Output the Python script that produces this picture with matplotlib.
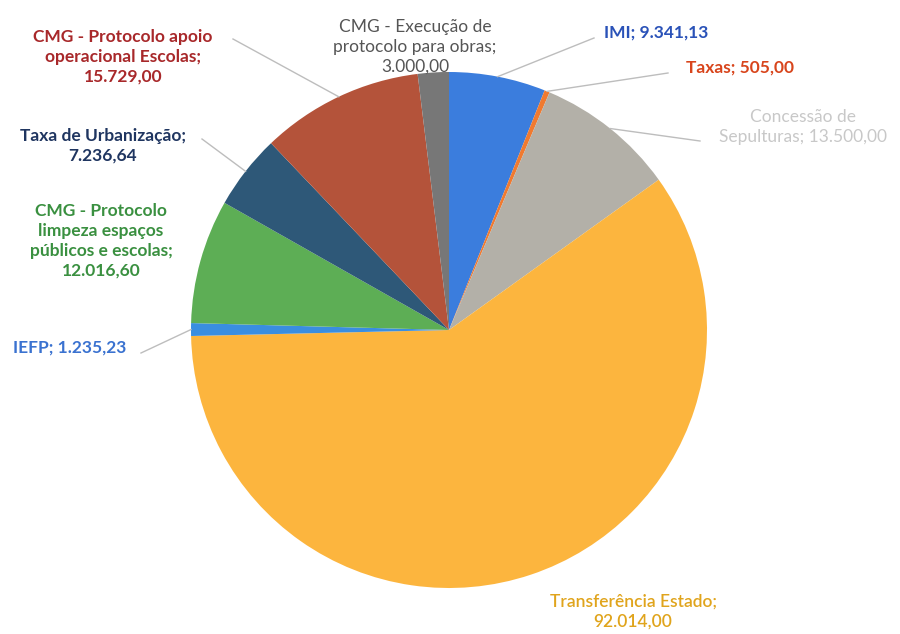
import matplotlib
matplotlib.use("Agg")
import matplotlib.pyplot as plt
import numpy as np

categories = ["IMI", "Taxas", "Concessão de Sepulturas", "Transferência Estado",
              "IEFP", "CMG - Protocolo limpeza espaços públicos e escolas",
              "Taxa de Urbanização", "CMG - Protocolo apoio operacional Escolas",
              "CMG - Execução de protocolo para obras"]
values = [9341.13, 505.00, 13500.00, 92014.00, 1235.23, 12016.60, 7236.64, 15729.00, 3000.00]
label_text = [
    "IMI; 9.341,13",
    "Taxas; 505,00",
    "Concessão de\nSepulturas; 13.500,00",
    "Transferência Estado;\n92.014,00",
    "IEFP; 1.235,23",
    "CMG - Protocolo\nlimpeza espaços\npúblicos e escolas;\n12.016,60",
    "Taxa de Urbanização;\n7.236,64",
    "CMG - Protocolo apoio\noperacional Escolas;\n15.729,00",
    "CMG - Execução de\nprotocolo para obras;\n3.000,00",
]

colors = ["#3b7ddd", "#f07a30", "#b3b0a8", "#fcb53e", "#3a8ee0",
          "#5dae55", "#2e5878", "#b4533a", "#777777"]
text_colors = ["#2a52b8", "#d8451c", "#c8c8c8", "#e0a41c", "#3a72d0",
               "#3a9040", "#1f3560", "#a8282a", "#555555"]
text_weights = ["bold", "bold", "normal", "semibold", "bold",
                "bold", "bold", "bold", "normal"]

# label layout (pixel coords, y from top)
label_pos = [(656, 33), (740, 68), (803, 127), (633, 612), (70, 348),
             (101, 241), (103, 146), (123, 57), (415, 47)]
leader_end = [(594, 38), (668, 73), (700, 141), None, (141, 353),
              None, (202, 139), (233, 39), None]

W, H = 900, 634
fig = plt.figure(figsize=(9, 6.34), dpi=100)
ax = fig.add_axes([0, 0, 1, 1])

cx, cy, r = 449, H - 330, 258
wedges, _ = ax.pie(values, colors=colors, startangle=90, counterclock=False,
                   center=(cx, cy), radius=r, frame=True,
                   wedgeprops=dict(linewidth=0))
ax.set_xlim(0, W)
ax.set_ylim(0, H)
ax.set_aspect("equal")
ax.axis("off")

for i, w in enumerate(wedges):
    mid = np.deg2rad((w.theta1 + w.theta2) / 2)
    px = cx + r * np.cos(mid)
    py = cy + r * np.sin(mid)
    if leader_end[i] is not None:
        ex, ey = leader_end[i]
        ax.plot([px, ex], [py, H - ey], color="#bdbdbd", lw=1.0, zorder=1)
    lx, ly = label_pos[i]
    ax.text(lx, H - ly, label_text[i], ha="center", va="center",
            color=text_colors[i], fontsize=12.5, fontweight=text_weights[i],
            family=["Lato", "DejaVu Sans"], linespacing=1.3, zorder=3)

fig.savefig("out.png", dpi=100)
